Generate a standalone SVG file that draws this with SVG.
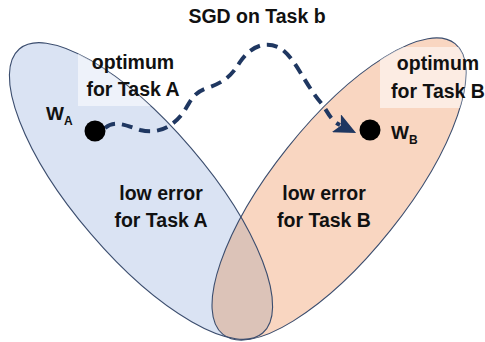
<svg xmlns="http://www.w3.org/2000/svg" width="485" height="342" viewBox="0 0 485 342">
  <style>
    .lbl { font-family: "Liberation Sans", Arial, sans-serif; font-weight: bold; font-size: 19.5px; fill: #111; text-anchor: middle; }
    .w { font-family: "Liberation Sans", Arial, sans-serif; font-weight: bold; font-size: 19px; fill: #111; }
    .sub { font-size: 12px; }
    .edge { fill: none; stroke: #3b4d6e; stroke-width: 1.1; }
    .path { fill: none; stroke: #1f3761; stroke-width: 4; stroke-dasharray: 11 7; }
    .pt { fill: #000; }
    .halo { fill: #ffffff; fill-opacity: 0.55; }
  </style>
  <defs>
    <ellipse id="shapeA" cx="141" cy="191" rx="187" ry="66" transform="rotate(49.4 141 191)"/>
    <ellipse id="shapeB" cx="339" cy="189" rx="186" ry="66" transform="rotate(-51.4 339 189)"/>
    <clipPath id="clipA"><use href="#shapeA"/></clipPath>
    <clipPath id="clipB"><use href="#shapeB"/></clipPath>
    <marker id="head" markerUnits="userSpaceOnUse" markerWidth="24" markerHeight="20" refX="4" refY="10" orient="auto">
      <path d="M0,0 L22,10 L0,20 L5,10 Z" fill="#1f3761"/>
    </marker>
  </defs>

  <!-- low-error regions -->
  <g id="regionA">
    <use href="#shapeA" fill="#dae3f3"/>
  </g>
  <g id="regionB">
    <use href="#shapeB" fill="#f9d6c1"/>
  </g>
  <g id="overlap">
    <use href="#shapeB" fill="#dcc3b8" clip-path="url(#clipA)"/>
  </g>
  <g id="outlines">
    <use href="#shapeA" class="edge"/>
    <use href="#shapeB" class="edge"/>
  </g>

  <!-- label backdrops -->
  <g id="optA">
    <rect x="78" y="52" width="110" height="54" class="halo" clip-path="url(#clipA)"/>
    <text class="lbl" x="133" y="69">optimum</text>
    <text class="lbl" x="133" y="96">for Task A</text>
  </g>
  <g id="optB">
    <rect x="380" y="47" width="105" height="61" class="halo" clip-path="url(#clipB)"/>
    <text class="lbl" x="438" y="70">optimum</text>
    <text class="lbl" x="438" y="98">for Task B</text>
  </g>

  <g id="lowA">
    <text class="lbl" x="161" y="200">low error</text>
    <text class="lbl" x="161" y="227">for Task A</text>
  </g>
  <g id="lowB">
    <text class="lbl" x="324" y="200">low error</text>
    <text class="lbl" x="324" y="227">for Task B</text>
  </g>

  <g id="title">
    <text class="lbl" x="257" y="23">SGD on Task b</text>
  </g>

  <!-- SGD trajectory -->
  <g id="connectors">
    <path class="path" marker-end="url(#head)" d="M105,128 C115,120 125,125 140,130 C160,135 175,125 185,110 C192,98 195,92 207,88 C225,82 232,75 240,62 C250,47 265,40 280,48 C295,57 305,85 322,104 C328,112 330,120 340,125"/>
  </g>

  <g id="wA">
    <circle class="pt" cx="95" cy="131" r="10.5"/>
    <text class="w" x="46" y="120">W<tspan class="sub" dy="5">A</tspan></text>
  </g>
  <g id="wB">
    <circle class="pt" cx="370" cy="130" r="10.5"/>
    <text class="w" x="391" y="139">W<tspan class="sub" dy="5">B</tspan></text>
  </g>
</svg>
